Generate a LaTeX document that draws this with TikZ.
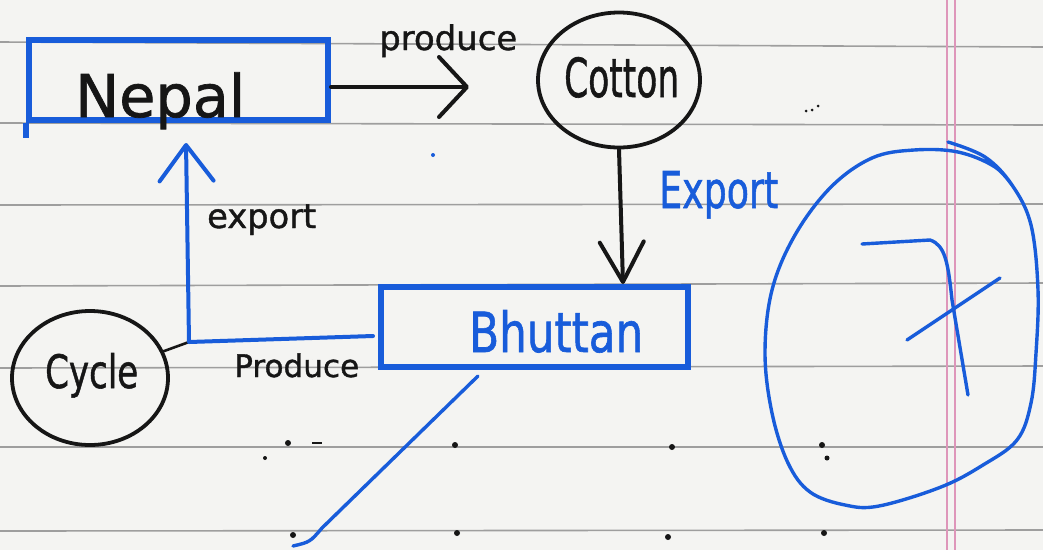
\documentclass[tikz,border=0pt]{standalone}
\usepackage{fontspec}
\setmainfont{DejaVu Sans}
\newfontfamily\penfont{DejaVu Sans}[FakeBold=1.2]
\usetikzlibrary{arrows.meta,shapes.geometric}

\definecolor{paper}{RGB}{244,244,242}
\definecolor{rulegray}{RGB}{158,158,158}
\definecolor{marginpink}{RGB}{222,150,186}
\definecolor{ink}{RGB}{22,22,22}
\definecolor{bink}{RGB}{24,92,218}

\tikzset{
  boxnode/.style={draw=bink, line width=6pt, rectangle, inner sep=0pt},
  blob/.style={draw=ink, line width=3.8pt, ellipse, inner sep=0pt},
  word/.style={inner sep=0pt, anchor=base west, font=\penfont},
  pen/.style={line width=4pt, line cap=round, line join=round},
  thinpen/.style={line width=3.4pt, line cap=round, line join=round},
  ruling/.style={draw=rulegray, line width=1.6pt},
  speck/.style={fill=ink}
}

\begin{document}
\begin{tikzpicture}[x=1pt,y=-1pt]
  % sheet of ruled paper
  \useasboundingbox (0,0) rectangle (1043,550);
  \fill[paper] (0,0) rectangle (1043,550);
  \draw[ruling] (0,42) -- (1043,47);
  \draw[ruling] (0,123) -- (1043,125);
  \draw[ruling] (0,205) -- (1043,204);
  \draw[ruling] (0,286) -- (1043,283);
  \draw[ruling] (0,368) -- (1043,366);
  \draw[ruling] (0,447) -- (1043,447);
  \draw[ruling] (0,531) -- (1043,530);
  \draw[marginpink, line width=1.3pt] (947,0) -- (947,550);
  \draw[marginpink, line width=1.3pt] (955,0) -- (955,550);

  % stray pen marks on the sheet
  \fill[speck] (288,443) circle (3pt);
  \fill[speck] (312,442) rectangle (322,444);
  \fill[speck] (265,458) circle (2pt);
  \fill[speck] (455,445) circle (3pt);
  \fill[speck] (293,535) circle (3pt);
  \fill[speck] (457,533) circle (3pt);
  \fill[speck] (672,447) circle (3pt);
  \fill[speck] (822,445) circle (3pt);
  \fill[speck] (827,458) circle (2.5pt);
  \fill[speck] (668,537) circle (3pt);
  \fill[speck] (824,533) circle (3pt);
  \fill[speck] (806,111) circle (1.5pt);
  \fill[speck] (812,110) circle (1.5pt);
  \fill[speck] (818,106) circle (1.5pt);
  \fill[bink] (433,155) circle (2pt);

  % boxes and bubbles
  \node[boxnode, minimum width=299pt, minimum height=80pt] (nepal) at (178.5,80) {};
  \node[boxnode, minimum width=307pt, minimum height=80pt] (bhuttan) at (534.5,327) {};
  \node[blob, minimum width=162pt, minimum height=135pt] (cotton) at (619,80) {};
  \node[blob, minimum width=156pt, minimum height=134pt] (cycle) at (90,378) {};
  \draw[boxnode] (nepal.south west) -- ++(0,15);

  % their words
  \node[word, text=ink] (tnepal) at (75,117) {\resizebox{170pt}{!}{Nepal}};
  \node[word, text=ink] (tcotton) at (564,97) {\resizebox{115pt}{40pt}{Cotton}};
  \node[word, text=bink] (tbhuttan) at (469,352) {\resizebox{174pt}{42pt}{Bhuttan}};
  \node[word, text=ink] (tcycle) at (45,388) {\resizebox{93pt}{35pt}{Cycle}};

  % connector labels
  \node[word, text=ink] (lprod1) at (379,50) {\resizebox{138pt}{!}{produce}};
  \node[word, text=bink] (lexp1) at (659,208) {\resizebox{119pt}{37pt}{Export}};
  \node[word, text=ink] (lexp2) at (207,228) {\resizebox{109pt}{!}{export}};
  \node[word, text=ink] (lprod2) at (234,377) {\resizebox{125pt}{!}{Produce}};

  % connectors
  \coordinate (p1) at (469,87);
  \draw[pen, ink, -{Straight Barb[length=28pt,width=60pt,round]}]
    ([yshift=-7pt]nepal.east) -- (p1);
  \draw[pen, ink, -{Straight Barb[length=40pt,width=44pt,round]}]
    (cotton.south) -- ([xshift=4pt]cotton.south |- bhuttan.north);
  \coordinate (j) at (189,342);
  \coordinate (t2) at (186,143);
  \draw[thinpen, ink, line width=2.6pt] (cycle) -- (j);
  \draw[pen, bink, -{Straight Barb[length=36pt,width=54pt,round]}]
    ([yshift=-9pt,xshift=-5pt]bhuttan.west) -- (j) -- (t2);
  \coordinate (d0) at ([xshift=100pt,yshift=-6pt]bhuttan.south west);
  \coordinate (d1) at (293,546);
  \draw[thinpen, bink] (d0) -- (322,528) .. controls (310,542) .. (d1);

  % ringed mark at the margin
  \draw[thinpen, bink] plot[smooth, tension=0.6] coordinates {
    (948,142) (985,157) (1012,185) (1031,225) (1038,290) (1036,353)
    (1031,403) (1017,440) (983,465) (941,487) (879,506) (845,505)
    (810,492) (788,463) (772,413) (765,353) (772,290) (795,235)
    (831,187) (872,158) (914,150) (958,152) (995,167) (1014,188)};
  \draw[thinpen, bink] (862,244) -- (930,240)
    .. controls (945,245) and (948,262) .. (952,300) -- (968,395);
  \draw[thinpen, bink] (907,340) -- (1000,278);
\end{tikzpicture}
\end{document}
